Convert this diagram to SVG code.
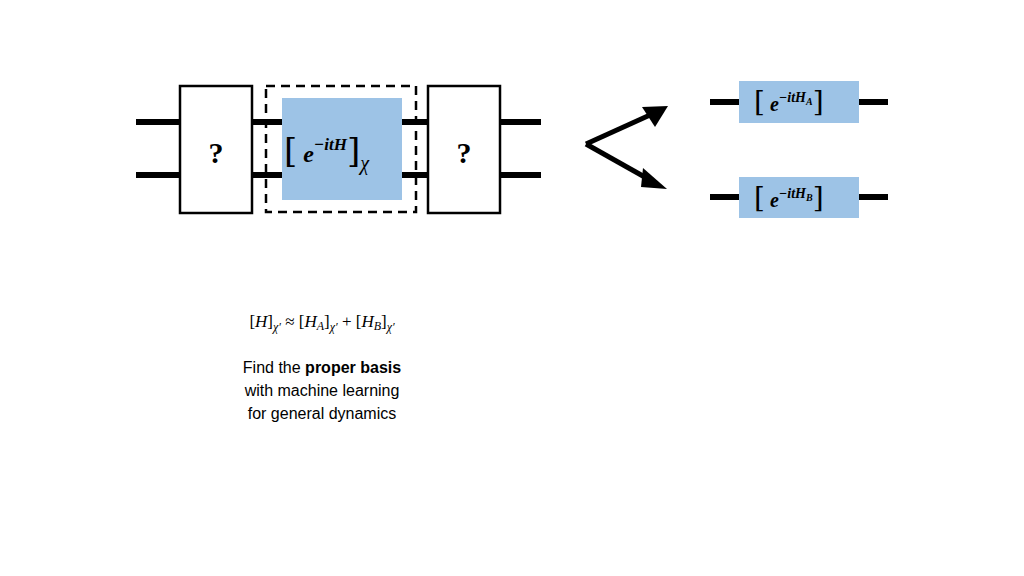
<svg xmlns="http://www.w3.org/2000/svg" width="1024" height="576" viewBox="0 0 1024 576">
<style>
.w{stroke:#000;stroke-width:6;fill:none}
.box{fill:#fff;stroke:#000;stroke-width:2.5}
.blue{fill:#9dc3e6}
.m{font-family:"Liberation Serif",serif;font-weight:bold;font-style:italic}
.br{font-family:"DejaVu Serif",serif;font-weight:normal;font-style:normal}
.t{font-family:"Liberation Sans",Arial,sans-serif;font-size:16px;text-anchor:middle}
</style>
<defs><marker id="ah" markerWidth="8" markerHeight="8" refX="6" refY="4" orient="auto" markerUnits="userSpaceOnUse" viewBox="0 0 8 8"><path d="M0,0 L8,4 L0,8 z"/></marker></defs>
<g id="connectors">
<path class="w" d="M136,122H541M136,175H541"/>
<path class="w" d="M710,102H888M710,197H888"/>
<path d="M586,144 L650,115" stroke="#000" stroke-width="5" fill="none"/>
<path d="M586,144 L650,180" stroke="#000" stroke-width="5" fill="none"/>
<path d="M642,107 L668,106 L655,127 z"/>
<path d="M643,168 L667,189 L641,187 z"/>
</g>
<g id="left"><rect class="box" x="180" y="86" width="72" height="127"/><text x="216" y="163" font-family="Liberation Serif,serif" font-weight="bold" font-size="30" text-anchor="middle">?</text></g>
<g id="dashed"><rect x="266" y="86" width="150" height="126" fill="none" stroke="#000" stroke-width="2.5" stroke-dasharray="9,6"/></g>
<g id="center"><rect class="blue" x="282" y="98" width="120" height="102"/>
<text x="284" y="162" class="m" font-size="24"><tspan class="br" font-size="34">[</tspan> e<tspan font-size="17" dy="-12">−itH</tspan><tspan class="br" font-size="34" dy="12">]</tspan><tspan font-size="20" dy="8" font-weight="normal">χ</tspan></text></g>
<g id="right"><rect class="box" x="428" y="86" width="72" height="127"/><text x="464" y="163" font-family="Liberation Serif,serif" font-weight="bold" font-size="30" text-anchor="middle">?</text></g>
<g id="boxA"><rect class="blue" x="739" y="81" width="120" height="42"/>
<text x="754" y="111" class="m" font-size="20"><tspan class="br" font-size="28">[</tspan> e<tspan font-size="14" dy="-9">−itH</tspan><tspan font-size="10" dy="3">A</tspan><tspan class="br" font-size="28" dy="6">]</tspan></text></g>
<g id="boxB"><rect class="blue" x="739" y="177" width="120" height="41"/>
<text x="754" y="207" class="m" font-size="20"><tspan class="br" font-size="28">[</tspan> e<tspan font-size="14" dy="-9">−itH</tspan><tspan font-size="10" dy="3">B</tspan><tspan class="br" font-size="28" dy="6">]</tspan></text></g>
<text x="322" y="327" font-family="Liberation Serif,serif" font-size="17" text-anchor="middle">[<tspan font-style="italic">H</tspan>]<tspan font-size="12" dy="4" font-style="italic">χ′</tspan><tspan dy="-4"> ≈ [</tspan><tspan font-style="italic">H</tspan><tspan font-size="12" dy="3" font-style="italic">A</tspan><tspan dy="-3">]</tspan><tspan font-size="12" dy="4" font-style="italic">χ′</tspan><tspan dy="-4"> + [</tspan><tspan font-style="italic">H</tspan><tspan font-size="12" dy="3" font-style="italic">B</tspan><tspan dy="-3">]</tspan><tspan font-size="12" dy="4" font-style="italic">χ′</tspan></text>
<text class="t" x="322" y="373">Find the <tspan font-weight="bold">proper basis</tspan></text>
<text class="t" x="322" y="396">with machine learning</text>
<text class="t" x="322" y="419">for general dynamics</text>
</svg>
